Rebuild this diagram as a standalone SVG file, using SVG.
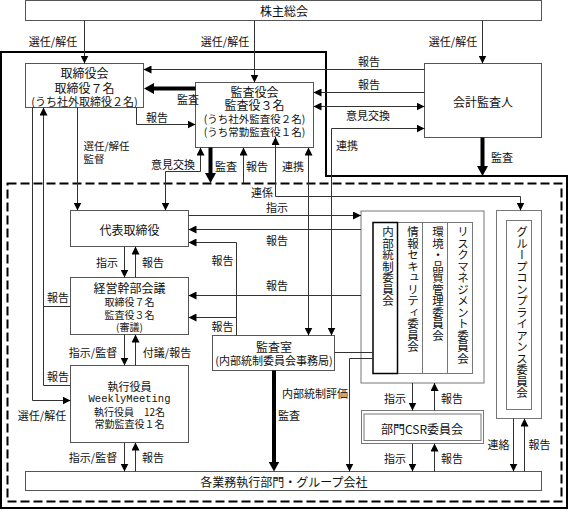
<svg xmlns="http://www.w3.org/2000/svg" width="569" height="510" viewBox="0 0 569 510">
<defs>
<style>
text{font-family:"Noto Sans CJK JP","Noto Sans",sans-serif;fill:#111;dominant-baseline:central;text-anchor:middle}
.t{font-size:12px}
.s{font-size:11px}
.p{font-size:10.5px}
.x{font-size:10px}
.l{font-size:11px}
.mono{font-family:"Liberation Mono","Noto Sans CJK JP",monospace;font-size:10.5px}
.v{font-size:11.5px;writing-mode:vertical-rl;text-anchor:start}
.box{fill:#fff;stroke:#555;stroke-width:1}
.gbox{fill:none;stroke:#777;stroke-width:1}
.ln{fill:none;stroke:#333;stroke-width:1}
.ar{marker-end:url(#a)}
.ab{marker-start:url(#a);marker-end:url(#a)}
.th{fill:none;stroke:#000;stroke-width:4;marker-end:url(#b)}
</style>
<marker id="a" viewBox="0 0 10 10" refX="10" refY="5" markerWidth="8" markerHeight="8" markerUnits="userSpaceOnUse" orient="auto-start-reverse"><path d="M0,0L10,5L0,10z" fill="#000"/></marker>
<marker id="b" viewBox="0 0 10 10" refX="4" refY="5" markerWidth="10" markerHeight="11" markerUnits="userSpaceOnUse" orient="auto" preserveAspectRatio="none"><path d="M0,0L10,5L0,10z" fill="#000"/></marker>
</defs>
<rect width="569" height="510" fill="#fff"/>

<g id="frames">
<path d="M1,52H326V176H567V508H1Z" fill="none" stroke="#000" stroke-width="2"/>
<rect x="7.5" y="183.5" width="554" height="318" fill="none" stroke="#000" stroke-width="2" stroke-dasharray="9 4"/>
</g>

<g id="kabunushi">
<rect class="box" x="25.5" y="0.5" width="516" height="20"/>
<text class="t" x="284" y="10.5">株主総会</text>
</g>

<g id="torishimariyakukai">
<rect class="box" x="25.5" y="63.5" width="118" height="44"/>
<text class="t" x="84.5" y="72.5">取締役会</text>
<text class="t" x="84.5" y="87.5">取締役７名</text>
<text class="s" x="84.5" y="101">(うち社外取締役２名)</text>
</g>

<g id="kansayakukai">
<rect class="box" x="195.5" y="82.5" width="118" height="65"/>
<text class="t" x="254.5" y="91">監査役会</text>
<text class="t" x="254.5" y="104.5">監査役３名</text>
<text class="p" x="254.5" y="118">(うち社外監査役２名)</text>
<text class="p" x="254.5" y="131">(うち常勤監査役１名)</text>
</g>

<g id="kaikeikansanin">
<rect class="box" x="424.5" y="63.5" width="117" height="74"/>
<text class="t" x="483" y="101.5">会計監査人</text>
</g>

<g id="daihyo">
<rect class="box" x="70.5" y="210.5" width="118" height="36"/>
<text class="t" x="129.5" y="229">代表取締役</text>
</g>

<g id="keiei">
<rect class="box" x="70.5" y="277.5" width="118" height="57"/>
<text class="t" x="129.5" y="287.5">経営幹部会議</text>
<text class="x" x="129.5" y="301">取締役７名</text>
<text class="x" x="129.5" y="314">監査役３名</text>
<text class="x" x="129.5" y="326.5">(審議)</text>
</g>

<g id="shikko">
<rect class="box" x="70.5" y="365.5" width="118" height="77"/>
<text class="s" x="129.5" y="385.5">執行役員</text>
<text class="mono" x="129.5" y="399">WeeklyMeeting</text>
<text class="x" x="129.5" y="411.5">執行役員　12名</text>
<text class="x" x="129.5" y="423.5">常勤監査役１名</text>
</g>

<g id="kansashitsu">
<rect class="box" x="212.5" y="335.5" width="122" height="35"/>
<text class="t" x="274" y="346">監査室</text>
<text class="s" x="274" y="359.5">(内部統制委員会事務局)</text>
</g>

<g id="committees">
<rect class="gbox" x="361" y="211" width="123" height="172"/>
<rect class="gbox" x="397.5" y="222.5" width="75" height="151"/>
<path class="gbox" d="M422.5,222.5V373.5M447.5,222.5V373.5"/>
<rect x="373" y="222.5" width="24.5" height="151" fill="none" stroke="#000" stroke-width="1.5"/>
<text class="v" x="388" y="226">内部統制委員会</text>
<text class="v" x="413" y="226">情報セキュリティ委員会</text>
<text class="v" x="438" y="226">環境・品質管理委員会</text>
<text class="v" x="463" y="226">リスクマネジメント委員会</text>
</g>

<g id="group-compliance">
<rect class="gbox" x="496.5" y="210.5" width="45" height="208"/>
<rect class="gbox" x="506.5" y="220.5" width="25" height="189"/>
<text class="v" x="522" y="226">グループコンプライアンス委員会</text>
</g>

<g id="csr">
<rect class="gbox" x="361.5" y="410.5" width="122" height="33"/>
<rect class="gbox" x="364" y="414" width="117" height="26.5"/>
<text class="t" x="422" y="428">部門CSR委員会</text>
</g>

<g id="kakugyomu">
<rect class="box" x="25.5" y="471.5" width="516" height="19"/>
<text class="t" x="284" y="481">各業務執行部門・グループ会社</text>
</g>

<g id="connectors">
<path class="ln ar" d="M84.5,20.5V63.5"/>
<path class="ln ar" d="M254.5,20.5V82.5"/>
<path class="ln ar" d="M482.5,20.5V63.5"/>
<path class="ln ar" d="M424.5,69.5H143.5"/>
<path class="ln ar" d="M424.5,92.5H313.5"/>
<path class="ln ab" d="M313.5,106.5H424.5"/>
<path class="ln ab" d="M331.5,335.5V128.5H424.5"/>
<path class="th" d="M195.5,88.5H150"/>
<path class="ln ar" d="M136.5,107.5V124.5H195.5"/>
<path class="ln ar" d="M77.5,107.5V210.5"/>
<path class="ln ab" d="M200.5,147.5V171.5H165.5V210.5"/>
<path class="th" d="M210.5,147.5V177"/>
<path class="ln ar" d="M243.5,183.5V147.5"/>
<path class="ln ab" d="M308.5,147.5V335.5"/>
<path class="ln ab" d="M275.5,137V196.5H520.5V210.5"/>
<path class="th" d="M482.5,137.5V170"/>
<path class="ln ar" d="M188.5,215.5H361"/>
<path class="ln ar" d="M361,229.5H188.5"/>
<path class="ln ar" d="M361,295.5H188.5"/>
<path class="ln ar" d="M236.5,335.5V242.5H188.5"/>
<path class="ln ar" d="M236.5,317.5H188.5"/>
<path class="ln ar" d="M124.5,246.5V277.5"/>
<path class="ln ar" d="M135.5,277.5V246.5"/>
<path class="ln ar" d="M124.5,334.5V365.5"/>
<path class="ln ar" d="M135.5,365.5V334.5"/>
<path class="ln ar" d="M124.5,442.5V471.5"/>
<path class="ln ar" d="M135.5,471.5V442.5"/>
<path class="ln ar" d="M32.5,107.5V400.5H70.5"/>
<path class="ln ar" d="M70.5,385.5H43.5V107.5"/>
<path class="ln" d="M70.5,306.5H43.5"/>
<path class="th" d="M274,370.5V465.5"/>
<path class="ln" d="M334.5,352.5H373"/>
<path class="ln ar" d="M373,358.5H349.5V471.5"/>
<path class="ln ar" d="M412.5,383V410.5"/>
<path class="ln ar" d="M434.5,410.5V383"/>
<path class="ln ar" d="M412.5,443.5V471.5"/>
<path class="ln ar" d="M434.5,471.5V443.5"/>
<path class="ln ar" d="M513.5,418.5V471.5"/>
<path class="ln ar" d="M524.5,471.5V418.5"/>
</g>

<g id="labels">
<text class="l" x="53" y="41">選任/解任</text>
<text class="l" x="225" y="41">選任/解任</text>
<text class="l" x="453" y="41">選任/解任</text>
<text class="l" x="369" y="61">報告</text>
<text class="l" x="369" y="84">報告</text>
<text class="l" x="368" y="115">意見交換</text>
<text class="l" x="347" y="145">連携</text>
<text class="l" x="188" y="99">監査</text>
<text class="l" x="157" y="117">報告</text>
<text class="p" x="83.5" y="145.5" style="text-anchor:start">選任/解任</text>
<text class="p" x="83.5" y="158" style="text-anchor:start">監督</text>
<text class="l" x="173" y="163.5">意見交換</text>
<text class="l" x="226" y="166">監査</text>
<text class="l" x="257" y="166">報告</text>
<text class="l" x="293" y="166">連携</text>
<text class="l" x="502" y="157">監査</text>
<text class="l" x="262" y="192">連係</text>
<text class="l" x="277" y="207">指示</text>
<text class="l" x="277" y="239.5">報告</text>
<text class="l" x="222.5" y="260">報告</text>
<text class="l" x="277" y="285">報告</text>
<text class="l" x="222.5" y="326">報告</text>
<text class="l" x="107" y="262">指示</text>
<text class="l" x="153" y="262">報告</text>
<text class="l" x="58" y="297">報告</text>
<text class="l" x="58" y="376">報告</text>
<text class="l" x="42" y="415">選任/解任</text>
<text class="l" x="93" y="352">指示/監督</text>
<text class="l" x="167" y="352">付議/報告</text>
<text class="l" x="93" y="457">指示/監督</text>
<text class="l" x="153" y="457">報告</text>
<text class="l" x="315" y="393">内部統制評価</text>
<text class="l" x="289" y="415">監査</text>
<text class="l" x="395" y="397.5">指示</text>
<text class="l" x="452" y="397.5">報告</text>
<text class="l" x="395" y="457.5">指示</text>
<text class="l" x="452" y="457.5">報告</text>
<text class="l" x="498.5" y="443.5">連絡</text>
<text class="l" x="539.5" y="443.5">報告</text>
</g>
</svg>
